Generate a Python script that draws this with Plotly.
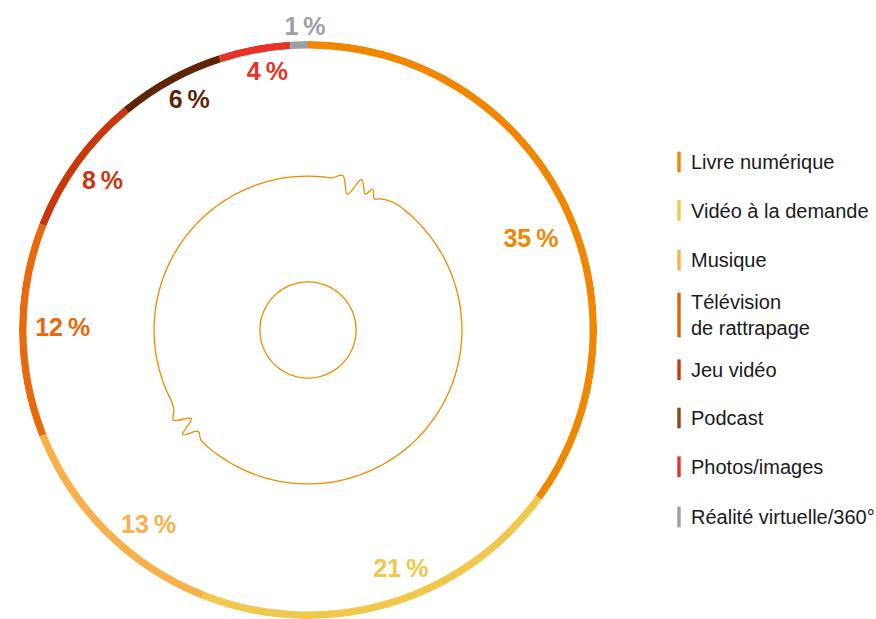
import plotly.graph_objects as go

# --- data -----------------------------------------------------------------
categories = [
    "Livre numérique",
    "Vidéo à la demande",
    "Musique",
    "Télévision<br>de rattrapage",
    "Jeu vidéo",
    "Podcast",
    "Photos/images",
    "Réalité virtuelle/360°",
]
shares = [35, 21, 13, 12, 8, 6, 4, 1]

# --- style ----------------------------------------------------------------
colors = ["#F18700", "#F1C84B", "#F9B04B", "#E9690C",
          "#C9380B", "#5E2405", "#E5332A", "#9BA1A6"]
legend_colors = ["#F18700", "#F1C84B", "#F9B04B", "#D9620C",
                 "#C9380B", "#8A4616", "#E5332A", "#9BA1A6"]

W, H = 876, 619
CX, CY, R_PX = 308, 330, 289          # ring centre / outer radius in pixels
R_MAX = 291                           # radial axis units
RING_W = 7.5
ARC_R = 155                           # inner decorative line
CORE_R = 48.4                         # small centre circle
LINE_COL = "#F18A00"
LABEL_FONT = "Liberation Sans, Arial, sans-serif"

# label placement: angular nudge (deg) from the slice centre, radius, anchor
label_nudge = [5.1, -4.9, -6.0, 0.1, -0.4, 1.3, 1.8, 1.2]
label_r = [242, 260, 255, 247, 254.5, 259, 261.5, R_MAX]
label_pos = ["middle center"] * 7 + ["top center"]

# legend rows: centre y (px from top) and bar half height
legend_y = [162, 210.5, 260, 315, 369.7, 418, 466.7, 517]
legend_half = [10.3, 10.3, 10.3, 22.3, 10.3, 10.3, 10.3, 10.3]
BAR_X0, BAR_X1, TEXT_X = 677.3, 680.7, 689

# --- geometry from the shares --------------------------------------------
total = sum(shares)
mids, widths = [], []
acc = 0.0
for v in shares:
    w = v / total * 360.0
    mids.append(acc + w / 2)
    widths.append(w)
    acc += w

fig = go.Figure()

# ring segments
fig.add_trace(go.Barpolar(
    theta=mids, width=widths, r=[RING_W] * len(shares),
    base=[R_MAX - RING_W] * len(shares),
    marker=dict(color=colors, line=dict(width=0)),
    hoverinfo="skip", showlegend=False,
))

# decorative wavy line (circle with two squiggles)
wiggle_top = [(12.7, 159.5), (16.2, 142.5), (19.6, 161.0), (22.9, 148.5),
              (24.7, 156.0), (26.8, 148.0), (29.0, 151.0), (33.0, 154.0)]
wiggle_low = [(224.3, 154.5), (227.3, 150.5), (230.1, 164.5), (232.8, 147.5),
              (236.2, 163.0), (239.3, 157.0)]
pts = [(a, ARC_R) for a in range(0, 361, 3)
       if not (10 < a < 36 or 221 < a < 242)]
pts += wiggle_top + wiggle_low
pts.sort()
fig.add_trace(go.Scatterpolar(
    theta=[p[0] for p in pts], r=[p[1] for p in pts], mode="lines",
    line=dict(color=LINE_COL, width=1.3, shape="spline", smoothing=1),
    hoverinfo="skip", showlegend=False,
))

# small centre circle
core_t = list(range(0, 361, 2))
fig.add_trace(go.Scatterpolar(
    theta=core_t, r=[CORE_R] * len(core_t), mode="lines",
    line=dict(color=LINE_COL, width=1.3),
    hoverinfo="skip", showlegend=False,
))

# percentage labels
fig.add_trace(go.Scatterpolar(
    theta=[m + n for m, n in zip(mids, label_nudge)], r=label_r,
    mode="text", text=[f"{v}\u2009%" for v in shares],
    textposition=label_pos,
    textfont=dict(family=LABEL_FONT, size=25, color=colors, weight="bold"),
    cliponaxis=False, hoverinfo="skip", showlegend=False,
))

# legend: coloured bars + labels
shapes, annotations = [], []
for name, col, yc, hh in zip(categories, legend_colors, legend_y, legend_half):
    shapes.append(dict(
        type="rect", xref="paper", yref="paper",
        x0=BAR_X0 / W, x1=BAR_X1 / W,
        y0=1 - (yc + hh) / H, y1=1 - (yc - hh) / H,
        fillcolor=col, line=dict(width=0),
    ))
    annotations.append(dict(
        text=name, xref="paper", yref="paper",
        x=TEXT_X / W, y=1 - yc / H, xanchor="left", yanchor="middle",
        align="left", showarrow=False,
        font=dict(family=LABEL_FONT, size=20, color="#1A1A1A"),
    ))

fig.update_layout(
    width=W, height=H,
    margin=dict(l=0, r=0, t=0, b=0),
    paper_bgcolor="white", plot_bgcolor="white",
    showlegend=False,
    polar=dict(
        domain=dict(x=[(CX - R_PX) / W, (CX + R_PX) / W],
                    y=[(H - CY - R_PX) / H, (H - CY + R_PX) / H]),
        bgcolor="rgba(0,0,0,0)",
        bargap=0,
        radialaxis=dict(range=[0, R_MAX], visible=False),
        angularaxis=dict(rotation=90, direction="clockwise",
                         showline=False, showgrid=False,
                         showticklabels=False, ticks=""),
    ),
    shapes=shapes,
    annotations=annotations,
)

fig.write_html("out.html")
